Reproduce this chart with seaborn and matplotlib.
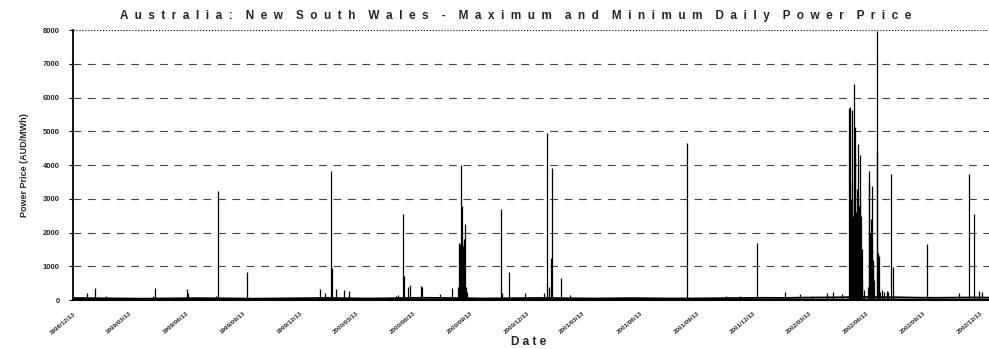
import pandas
import seaborn
import matplotlib
matplotlib.use('Agg')
import matplotlib.pyplot as plt
from matplotlib.transforms import ScaledTranslation

# monthly level of the daily max / min price (AUD/MWh)
month_dates = pandas.date_range('1998-12-01', '2003-01-01', freq='MS')
base_max = [60, 55, 50, 45, 40, 45, 50, 55, 50, 45, 40, 45, 50,
            55, 60, 50, 45, 50, 60, 65, 60, 55, 45, 50, 55,
            60, 55, 50, 45, 50, 55, 50, 45, 45, 50, 55, 60,
            65, 60, 70, 75, 80, 90, 85, 80, 70, 65, 70, 75, 70]
base_min = [15, 12, 12, 10, 10, 12, 15, 15, 12, 10, 10, 12, 14,
            15, 15, 12, 12, 14, 16, 16, 15, 14, 12, 12, 14,
            15, 14, 12, 12, 12, 14, 14, 12, 12, 12, 14, 15,
            16, 16, 18, 18, 20, 22, 22, 20, 18, 16, 16, 18, 18]

# price spikes (daily max)
spike_dates = ['1999-01-04', '1999-01-17', '1999-02-04', '1999-04-21', '1999-04-24',
               '1999-06-14', '1999-06-16', '1999-08-01', '1999-08-04', '1999-09-19',
               '2000-01-14', '2000-01-22', '2000-02-01', '2000-02-03', '2000-02-09',
               '2000-02-23', '2000-03-01', '2000-05-16', '2000-05-19', '2000-05-27',
               '2000-05-29', '2000-06-04', '2000-06-07', '2000-06-25', '2000-06-27',
               '2000-07-26', '2000-08-14', '2000-08-24', '2000-08-26', '2000-08-27',
               '2000-08-28', '2000-08-29', '2000-08-30', '2000-08-31', '2000-09-01',
               '2000-09-02', '2000-09-03', '2000-09-04', '2000-09-06', '2000-09-08',
               '2000-11-01', '2000-11-03', '2000-11-14', '2000-12-10', '2000-12-18',
               '2001-01-09', '2001-01-15', '2001-01-17', '2001-01-21', '2001-01-23',
               '2001-02-06', '2001-02-20', '2001-08-18', '2001-08-27', '2001-10-29',
               '2001-11-21', '2001-12-19', '2002-01-05', '2002-02-02', '2002-02-26',
               '2002-03-17', '2002-04-10', '2002-04-20', '2002-05-04',
               '2002-05-16', '2002-05-17', '2002-05-18', '2002-05-19', '2002-05-20',
               '2002-05-21', '2002-05-22', '2002-05-23', '2002-05-24', '2002-05-25',
               '2002-05-26', '2002-05-27', '2002-05-28', '2002-05-29', '2002-05-30',
               '2002-05-31', '2002-06-01', '2002-06-02', '2002-06-03', '2002-06-04',
               '2002-06-05', '2002-06-06', '2002-06-08',
               '2002-06-15', '2002-06-16', '2002-06-17', '2002-06-18', '2002-06-19',
               '2002-06-20', '2002-06-21', '2002-06-22', '2002-06-23', '2002-06-24',
               '2002-06-25', '2002-06-29', '2002-06-30', '2002-07-02', '2002-07-03',
               '2002-07-05', '2002-07-08', '2002-07-11', '2002-07-15', '2002-07-18',
               '2002-07-22', '2002-07-25', '2002-09-18', '2002-11-08', '2002-11-25',
               '2002-12-03', '2002-12-11', '2002-12-16']
spike_max = [200, 360, 130, 130, 350,
             340, 200, 130, 3240, 820,
             320, 200, 3830, 950, 330,
             310, 280, 130, 150, 2550,
             700, 380, 430, 420, 380,
             170, 350, 400, 1700, 1650,
             4000, 1700, 2800, 1700, 1600,
             1700, 1800, 2250, 400, 250,
             2700, 200, 820, 220, 100,
             220, 4950, 400, 1240, 3920,
             660, 150, 100, 4640, 110,
             120, 1690, 100, 250, 180,
             120, 200, 240, 180,
             5700, 5710, 3000, 2600, 5630,
             3500, 2500, 3000, 6390, 4200,
             5140, 2600, 3300, 2500, 4610,
             2800, 2600, 3000, 4300, 2500,
             1500, 600, 300,
             400, 3500, 3820, 2000, 1500,
             2400, 3390, 1800, 1000, 1190,
             600, 7970, 4400, 1390, 1300,
             250, 300, 250, 280, 250,
             3730, 990, 1660, 200, 3720,
             2550, 280, 250]

yticks = [0, 1000, 2000, 3000, 4000, 5000, 6000, 7000, 8000]
tick_dates = pandas.date_range('1998-12-13', periods=17, freq=pandas.DateOffset(months=3))
tick_labels = [d.strftime('%Y/%m/%d') for d in tick_dates]

title = 'Australia: New South Wales - Maximum and Minimum Daily Power Price'
spaced_title = '    '.join('  '.join(w) for w in title.split(' '))

seaborn.set_theme(style='white')
plt.rcParams['font.family'] = ['Liberation Sans', 'DejaVu Sans']

fig = plt.figure(figsize=(9.89, 3.49), dpi=100)
ax = fig.add_axes([0.0738, 0.1404, 0.9262, 0.7736])

spikes = pandas.DataFrame({'date': pandas.to_datetime(spike_dates), 'price': spike_max})
base = pandas.DataFrame({'date': month_dates, 'max': base_max, 'min': base_min})

ax.vlines(spikes['date'], 0, spikes['price'], color='black', lw=0.9, zorder=3)
seaborn.lineplot(data=base, x='date', y='max', ax=ax, color='black', lw=1.3, zorder=3)
seaborn.lineplot(data=base, x='date', y='min', ax=ax, color='black', lw=1.0, zorder=3)

ax.set_xlim(pandas.Timestamp('1998-12-13'), pandas.Timestamp('2002-12-27'))
ax.set_ylim(0, 8000)
ax.set_yticks(yticks)
ax.set_yticklabels([str(v) for v in yticks], fontsize=5.5, fontweight='bold')
for v in yticks[1:-1]:
    ax.axhline(v, color='#444444', lw=0.8, ls=(0, (7, 6)), zorder=1)
ax.axhline(8000, color='black', lw=0.8, ls=':', zorder=1)

ax.set_xticks(tick_dates)
ax.set_xticklabels(tick_labels, rotation=40, ha='right', va='top',
                   rotation_mode='anchor', fontsize=4.5, fontweight='bold')
for lbl in ax.get_xticklabels():
    lbl.set_transform(lbl.get_transform() + ScaledTranslation(-0.2, 0, fig.dpi_scale_trans))

ax.tick_params(axis='y', left=True, length=3, width=0.8, color='black', pad=6.5)
ax.tick_params(axis='x', bottom=False, pad=2)

for s in ['top', 'right']:
    ax.spines[s].set_visible(False)
ax.spines['left'].set_color('black')
ax.spines['left'].set_linewidth(1.3)
ax.spines['bottom'].set_color('black')
ax.spines['bottom'].set_linewidth(1.5)

ax.set_xlabel('')
ax.set_ylabel('Power Price (AUD/MWh)', fontsize=6.5, fontweight='bold', labelpad=10)
fig.text(0.535, 0.02, 'D a t e', ha='center', va='center', fontsize=8.5, fontweight='bold')
fig.text(0.521, 0.954, spaced_title, ha='center', va='center', fontsize=8.5, fontweight='bold')

fig.savefig('out.png', dpi=100)
